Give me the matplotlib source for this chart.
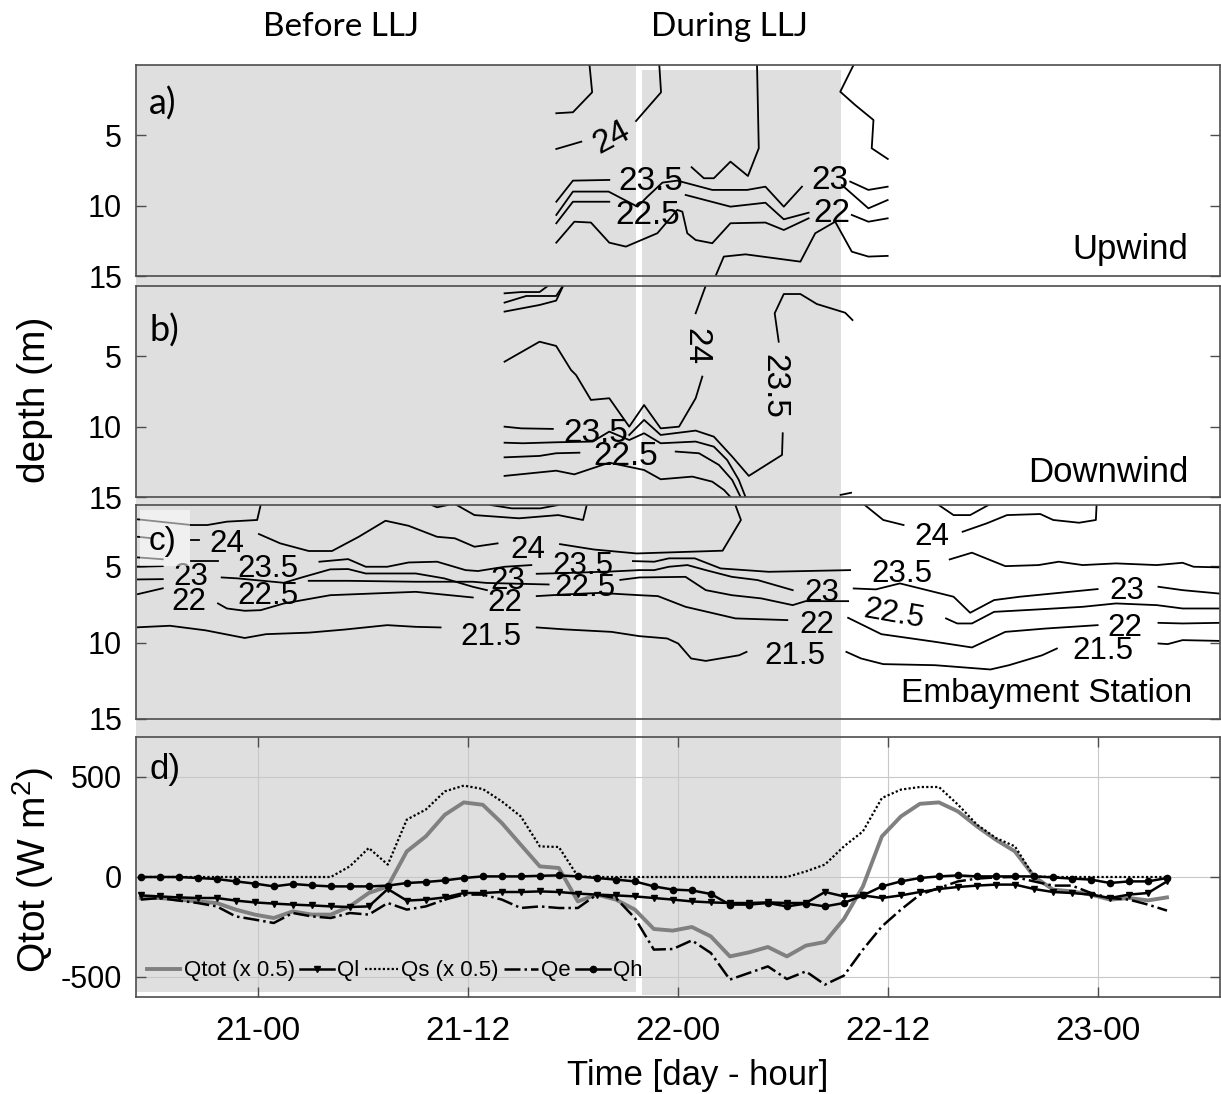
import numpy as np
import matplotlib
matplotlib.use("Agg")
import matplotlib.pyplot as plt
from matplotlib.patches import Rectangle
import matplotlib.transforms as mtransforms

plt.rcParams['font.family'] = ['Liberation Sans', 'DejaVu Sans']
plt.rcParams['mathtext.fontset'] = 'custom'
plt.rcParams['mathtext.rm'] = 'Liberation Sans'
plt.rcParams['mathtext.default'] = 'regular'
plt.rcParams['axes.unicode_minus'] = False

# ---------------- time axis (hours since day 21, 00:00) ----------------
time_range = (-7, 55)
tick_hours = [0, 12, 24, 36, 48]
tick_labels = ['21-00', '21-12', '22-00', '22-12', '23-00']
before_llj = (-7.0, 21.62)
during_llj = (21.96, 33.31)

# ---------------- panel d: heat fluxes (W m-2) ----------------
flux_t0 = -6.73
flux_dt = 1.087
qtot = [-105, -105, -113, -122, -130, -163, -188, -205, -172, -188, -188, -147, -80, -47, 128,
        203, 311, 373, 361, 270, 161, 53, 45, -122, -88, -113, -163, -260, -268,
        -250, -297, -397, -377, -350, -397, -343, -325, -210, -47, 203, 303, 366, 373, 328,
        253, 186, 128, 3, -63, -72, -88, -113, -105, -117, -102]
ql = [-92, -97, -102, -105, -105, -118, -127, -133, -138, -142, -147, -150, -147, -60, -118,
      -113, -102, -80, -80, -75, -75, -72, -75, -83, -88, -92, -97, -105, -113,
      -122, -127, -130, -130, -127, -130, -130, -75, -97, -92, -105, -92, -75, -60, -50,
      -43, -38, -38, -60, -75, -80, -88, -105, -88, -80, -22]
qs = [0, 0, 0, 0, 0, 0, 0, 0, 0, 0, 0, 53, 145, 62, 287,
      337, 428, 457, 440, 378, 303, 153, 150, 3, 0, 0, 0, 0, 0,
      0, 0, 0, 0, 0, 0, 28, 62, 153, 228, 395, 437, 450, 450, 362,
      262, 195, 153, 3, 0, 0, 0, 0, 0, 0, 0]
qe = [-113, -105, -118, -130, -147, -197, -213, -230, -180, -197, -205, -180, -188, -130, -163,
      -147, -113, -88, -88, -113, -155, -147, -155, -155, -88, -105, -205, -363, -360,
      -317, -380, -513, -480, -447, -510, -472, -538, -493, -363, -247, -163, -88, -55, -22,
      -8, -2, 0, -22, -43, -43, -80, -105, -113, -138, -168]
qh = [0, 0, 0, -5, -10, -22, -33, -47, -35, -42, -47, -47, -47, -43, -30,
      -25, -17, -5, 3, 3, 3, 6, 8, 3, -5, -13, -22, -47, -63,
      -67, -85, -138, -138, -130, -147, -133, -147, -130, -92, -47, -22, -5, 3, 8,
      3, 3, 3, 3, -2, -8, -13, -30, -22, -22, -5]

# ---------------- isotherm traces (time h, depth m), one list per isotherm ----------------
# panel a (Upwind)
a_warm = [([18.94, 19.09, 17.99, 17.04], [0.0, 1.94, 3.36, 3.43])]
a_24 = [([17.04, 18.47], [5.97, 5.45]), ([21.6, 23.03, 22.93], [3.98, 1.94, 0.0])]
a_235 = [([17.04, 17.99, 20.07], [9.72, 8.22, 8.17]),
         ([24.78, 25.48, 26.05, 27.0, 28.0, 28.62, 28.52], [7.27, 8.05, 8.05, 6.87, 7.89, 5.92, 0.0])]
a_east = [([34.04, 33.28, 34.13, 35.18, 35.08, 36.0], [0.0, 1.9, 2.84, 3.91, 5.92, 6.68])]
a_23 = [([17.04, 17.99, 20.03, 21.68, 22.25, 23.11, 23.96, 25.96, 27.95, 29.0, 30.05, 31.09],
         [10.66, 9.0, 9.0, 10.07, 9.36, 8.36, 8.22, 8.88, 8.88, 8.65, 10.07, 8.65]),
        ([33.85, 34.89, 35.99], [8.29, 8.88, 8.65])]
a_225 = [([17.04, 17.99, 20.07], [11.25, 9.72, 9.72]),
         ([24.44, 27.0, 29.0, 30.05, 31.47], [9.24, 10.07, 9.79, 10.97, 10.5]),
         ([33.37, 34.89, 35.99], [8.53, 10.19, 9.6])]
a_22 = [([17.04, 18.07, 19.02, 20.07, 21.02, 22.82, 23.96, 24.25, 24.53, 25.01, 25.96, 27.0, 29.0, 30.05, 31.47],
         [12.63, 11.14, 11.2, 12.63, 12.91, 11.96, 10.3, 10.43, 11.96, 12.44, 12.67, 11.25, 11.2, 11.73, 10.9]),
        ([33.94, 34.89, 35.99], [10.66, 11.14, 10.9])]
a_215 = [([26.15, 26.62, 27.86, 31.0, 31.85, 32.99, 33.94, 34.89, 35.99],
          [15.0, 13.62, 13.46, 13.98, 11.96, 11.14, 13.27, 13.62, 13.57])]
a_labels = [('24', 20.1, 4.97, 28), ('23.5', 22.45, 8.05, 0), ('22.5', 22.25, 10.43, 0),
            ('23', 32.7, 7.94, 0), ('22', 32.8, 10.3, 0)]

# panel b (Downwind)
b_warm = [([14.08, 15.03, 16.08, 16.55], [0.52, 0.43, 0.43, 0.0]),
          ([14.08, 15.32, 17.03, 17.41], [1.18, 0.71, 0.71, 0.0]),
          ([14.08, 16.08, 17.03, 17.41], [1.82, 1.35, 1.04, 0.05])]
b_24 = [([14.08, 16.08, 17.03, 17.88, 18.17, 19.02, 20.07, 21.21, 22.06, 23.01, 24.06, 25.01, 25.39],
         [5.38, 3.96, 4.26, 5.97, 6.33, 8.1, 7.98, 10.0, 8.46, 10.12, 10.0, 7.98, 6.44]),
        ([25.01, 25.58], [1.94, 0.0])]
b_235 = [([14.08, 15.03, 16.84], [10.0, 10.12, 10.16]),
         ([21.21, 22.06, 23.01, 25.01, 26.05, 27.1, 28.05, 29.95, 29.99],
          [10.59, 9.52, 10.59, 10.28, 10.71, 12.13, 13.5, 12.01, 10.47]),
         ([29.76, 29.53, 30.05, 31.0, 31.94, 33.56, 33.98], [3.96, 1.94, 0.57, 0.57, 1.28, 1.9, 2.42])]
b_23 = [([14.08, 15.13, 17.03, 19.12, 20.07, 21.21, 22.06, 23.01, 25.01, 26.05, 26.81, 27.48, 27.86],
         [11.14, 11.18, 11.11, 11.06, 10.35, 10.95, 10.47, 11.18, 11.06, 11.42, 12.37, 13.79, 15.0])]
b_225 = [([14.08, 16.08, 17.03, 18.36], [12.18, 12.08, 11.89, 11.85]),
         ([23.87, 25.2, 26.34, 27.1, 27.58], [11.77, 11.89, 12.72, 13.79, 15.0])]
b_22 = [([14.08, 17.03, 18.07, 20.07, 22.06, 23.01, 24.82, 25.96, 26.63, 27.0],
         [13.5, 13.13, 13.39, 12.56, 13.08, 13.74, 13.55, 13.91, 14.5, 15.0])]
b_east = [([33.3, 33.9], [14.85, 14.7])]
b_labels = [('23.5', 19.31, 10.23, 0), ('22.5', 21.02, 11.89, 0), ('24', 25.2, 4.31, -90),
            ('23.5', 29.66, 7.15, -90)]

# panel c (Embayment Station)
c_warm = [([-6.89, -3.84, -2.92, -1.80, -0.07, 0.13], [1.94, 2.31, 2.31, 2.09, 1.98, 1.0]),
          ([9.91, 10.22, 10.83], [1.0, 1.15, 1.0]),
          ([11.34, 12.36, 14.9, 17.15, 18.57, 18.78], [1.0, 1.66, 1.87, 1.66, 1.98, 1.0]),
          ([13.28, 14.5, 16.13, 17.15], [1.0, 1.22, 1.22, 1.0]),
          ([38.91, 39.76, 40.71, 41.76], [1.0, 1.66, 1.66, 1.0])]
c_24 = [([-6.89, -6.08], [3.08, 3.18]), ([-3.84, -3.4], [3.29, 3.29]),
        ([0.03, 1.25, 2.88, 4.21, 5.74, 7.27, 8.59, 10.22, 11.24, 12.36, 13.68],
         [2.90, 3.51, 4.01, 4.01, 3.08, 2.03, 2.36, 3.08, 3.18, 3.73, 3.51]),
        ([17.25, 19.18, 21.63, 24.64, 26.55, 27.6, 27.28], [3.56, 3.91, 4.17, 4.06, 3.99, 1.98, 1.0]),
        ([34.68, 35.74, 36.9], [1.0, 1.98, 2.31]),
        ([40.28, 41.66, 42.82, 44.72, 45.46, 46.94, 47.9, 47.94], [2.75, 2.20, 1.66, 1.59, 1.98, 2.16, 1.98, 1.0])]
c_235 = [([-6.89, -5.47], [4.43, 4.55]), ([-3.84, -2.31], [4.65, 4.65]),
         ([3.49, 5.13, 6.14, 7.37, 8.59, 10.22, 11.85, 12.56, 14.09, 15.61],
          [4.71, 4.54, 5.04, 5.04, 4.76, 4.71, 5.26, 5.32, 5.04, 4.93]),
         ([21.42, 22.64, 23.48, 24.96, 26.44, 29.19, 33.84], [4.67, 4.71, 4.49, 4.49, 5.15, 5.37, 5.26]),
         ([39.54, 40.81, 42.72, 44.62, 45.78, 47.15, 49.05, 51.38, 52.86, 53.49, 54.93],
          [4.56, 4.12, 5.0, 4.93, 4.71, 4.93, 4.82, 4.93, 4.78, 5.04, 5.08])]
c_23 = [([-6.89, -5.47], [5.04, 5.0]),
        ([-2.10, -1.19, 1.46, 2.48, 4.11, 5.13, 6.14, 9.0, 10.63, 12.26, 13.07],
         [5.74, 5.80, 6.09, 5.74, 5.21, 5.19, 5.48, 5.48, 5.80, 6.35, 6.57]),
        ([15.92, 17.55, 20.2, 21.79, 22.64, 23.48, 24.54, 25.59, 27.08, 28.55, 30.56],
         [5.5, 5.45, 5.35, 5.26, 5.26, 5.04, 4.93, 5.26, 5.70, 5.91, 6.57]),
        ([34.05, 35.32, 36.69, 39.76, 40.71, 42.08, 43.56, 48.0], [6.46, 6.52, 6.13, 7.0, 8.05, 7.22, 7.0, 6.50]),
        ([51.48, 52.86, 54.93], [6.35, 6.57, 6.79])]
c_225 = [([-6.89, -5.47], [5.87, 5.85]),
         ([2.88, 5.13, 9.0, 12.26, 13.07, 16.6], [5.96, 5.96, 6.02, 6.02, 6.1, 6.2]),
         ([20.7, 21.79, 24.43, 25.59, 27.08, 28.76, 30.56, 31.3, 33.73],
          [5.9, 5.74, 5.70, 6.57, 6.90, 7.11, 7.55, 7.29, 7.29]),
         ([39.33, 39.97, 40.81, 42.08, 44.62, 47.15, 49.05, 51.38, 52.86, 54.93],
          [8.42, 8.75, 8.75, 7.99, 7.83, 7.66, 7.44, 7.55, 7.77, 7.77])]
c_22 = [([-6.89, -5.47], [6.83, 6.45]),
        ([-2.31, -1.80, -0.78, 0.13, 1.46, 4.11, 9.0, 12.26], [7.44, 7.77, 7.92, 7.88, 7.44, 6.9, 6.68, 7.05]),
        ([15.92, 17.55, 19.5, 21.79, 22.85, 24.43, 27.29, 30.25], [6.96, 6.85, 6.75, 6.90, 6.96, 7.66, 8.42, 8.53]),
        ([33.73, 35.63, 38.7, 40.81, 42.72, 45.04, 48.0], [8.38, 9.45, 9.95, 10.32, 9.30, 9.08, 8.86]),
        ([51.48, 52.86, 54.93], [8.71, 8.75, 8.71])]
c_215 = [([-6.89, -5.06, -3.02, -0.78, 0.44, 2.88, 4.92, 7.37, 9.0, 10.42],
          [9.0, 8.9, 9.2, 9.7, 9.45, 9.35, 9.15, 8.86, 8.97, 9.01]),
         ([15.92, 17.55, 20.2, 21.79, 23.38, 24.01, 24.75, 25.59, 27.5, 27.92],
          [9.01, 9.14, 9.3, 9.58, 9.73, 10.06, 11.04, 11.20, 10.83, 10.61]),
         ([33.63, 34.47, 35.74, 38.7, 41.87, 42.93, 44.83, 45.67],
          [10.61, 11.04, 11.41, 11.48, 11.76, 11.48, 10.83, 10.39]),
         ([51.48, 52.01, 52.86, 54.93], [10.06, 10.1, 9.84, 9.89])]
c_labels = [('24', -1.80, 3.29, 0), ('24', 15.41, 3.73, 0), ('24', 38.49, 2.86, 0),
            ('23.5', 0.54, 4.95, 0), ('23.5', 18.57, 4.75, 0), ('23.5', 36.8, 5.3, 0),
            ('23', -3.84, 5.45, 0), ('23', 14.29, 5.75, 0), ('23', 32.25, 6.5, 0), ('23', 49.69, 6.4, 0),
            ('22.5', 0.54, 6.7, 0), ('22.5', 18.67, 6.2, 0), ('22.5', 36.37, 7.95, -10),
            ('22', -4.0, 7.12, 0), ('22', 14.1, 7.2, 0), ('22', 31.93, 8.6, 0), ('22', 49.58, 8.8, 0),
            ('21.5', 13.27, 9.41, 0), ('21.5', 30.67, 10.65, 0), ('21.5', 48.3, 10.35, 0)]

# ---------------- figure ----------------
W, H = 1221, 1094
fig = plt.figure(figsize=(W / 100, H / 100), dpi=100)
L, R = 136, 1220
ax_a = fig.add_axes([L / W, 1 - 276 / H, (R - L) / W, 211 / H])
ax_b = fig.add_axes([L / W, 1 - 497 / H, (R - L) / W, 211 / H])
ax_c = fig.add_axes([L / W, 1 - 719 / H, (R - L) / W, 214 / H])
ax_d = fig.add_axes([L / W, 1 - 997 / H, (R - L) / W, 260 / H])

GRAY = '#dfdfdf'
trans = mtransforms.blended_transform_factory(ax_d.transData, fig.transFigure)
fig.add_artist(Rectangle((before_llj[0], 1 - 992 / H), before_llj[1] - before_llj[0], (992 - 65) / H,
                         transform=trans, facecolor=GRAY, edgecolor='none', zorder=-1))
fig.add_artist(Rectangle((during_llj[0], 1 - 995 / H), during_llj[1] - during_llj[0], (995 - 70) / H,
                         transform=trans, facecolor=GRAY, edgecolor='none', zorder=-1))

for ax in (ax_a, ax_b, ax_c, ax_d):
    ax.set_facecolor('none')
    ax.set_xlim(*time_range)
    for s in ax.spines.values():
        s.set_color('0.3')
        s.set_linewidth(1.2)


def draw_iso(ax, segs):
    for t, d in segs:
        ax.plot(t, d, color='k', lw=1.3, zorder=2)


def draw_labels(ax, labels, size):
    for txt, t, d, rot in labels:
        ax.text(t, d, txt, fontsize=size, ha='center', va='center_baseline', rotation=rot,
                rotation_mode='anchor', zorder=2)


for seg in (a_warm, a_24, a_235, a_east, a_23, a_225, a_22, a_215):
    draw_iso(ax_a, seg)
draw_labels(ax_a, a_labels, 24)
for seg in (b_warm, b_24, b_235, b_23, b_225, b_22, b_east):
    draw_iso(ax_b, seg)
draw_labels(ax_b, b_labels, 24)
for seg in (c_warm, c_24, c_235, c_23, c_225, c_22, c_215):
    draw_iso(ax_c, seg)
draw_labels(ax_c, c_labels, 22.5)

for ax, ylim in ((ax_a, (15, 0)), (ax_b, (15, 0)), (ax_c, (15, 1))):
    ax.set_ylim(*ylim)
    ax.set_yticks([5, 10, 15])
    ax.tick_params(axis='y', direction='in', length=7, width=1, left=True, right=True,
                   labelsize=22, pad=10, color='0.3')
    ax.tick_params(axis='x', bottom=False, labelbottom=False)

ax_a.text(0.9705, 0.08, 'Upwind', transform=ax_a.transAxes, ha='right', va='baseline', fontsize=25)
ax_b.text(0.9705, 0.072, 'Downwind', transform=ax_b.transAxes, ha='right', va='baseline', fontsize=25)
ax_c.text(0.974, 0.081, 'Embayment Station', transform=ax_c.transAxes, ha='right', va='baseline', fontsize=24)

ax_a.text(0.012, 0.9, 'a)', transform=ax_a.transAxes, ha='left', va='top', fontsize=26, family='Lato')
ax_b.text(0.012, 0.87, 'b)', transform=ax_b.transAxes, ha='left', va='top', fontsize=26, family='Lato')
ax_c.add_patch(Rectangle((0.004, 0.715), 0.046, 0.262, transform=ax_c.transAxes,
                         facecolor='white', alpha=0.55, edgecolor='none', zorder=3))
ax_c.text(0.012, 0.9, 'c)', transform=ax_c.transAxes, ha='left', va='top', fontsize=24, zorder=4)
ax_d.text(0.012, 0.94, 'd)', transform=ax_d.transAxes, ha='left', va='top', fontsize=25, zorder=4)

# ---------------- panel d ----------------
t = flux_t0 + flux_dt * np.arange(len(qtot))
ax_d.plot(t, qtot, color='0.5', lw=2.8, label='Qtot (x 0.5)', zorder=2)
ax_d.plot(t, ql, color='k', lw=1.8, marker='v', ms=4.5, label='Ql', zorder=3)
ax_d.plot(t, qs, color='k', lw=1.6, ls=(0, (1, 1)), label='Qs (x 0.5)', zorder=3)
ax_d.plot(t, qe, color='k', lw=1.8, ls='-.', label='Qe', zorder=3)
ax_d.plot(t, qh, color='k', lw=1.8, marker='o', ms=4.5, label='Qh', zorder=3)
ax_d.set_ylim(-600, 700)
ax_d.set_yticks([-500, 0, 500])
ax_d.set_xticks(tick_hours)
ax_d.set_xticklabels(tick_labels)
ax_d.grid(True, color='#c8c8c8', lw=0.8)
ax_d.set_axisbelow(True)
ax_d.tick_params(axis='both', direction='in', length=7, width=1, top=True, right=True, color='0.3')
ax_d.tick_params(axis='y', labelsize=22, pad=10)
ax_d.tick_params(axis='x', labelsize=24, pad=14)
ax_d.legend(loc='lower left', bbox_to_anchor=(0.01, 0.06), ncol=5, frameon=False, fontsize=16,
            handlelength=1.5, handletextpad=0.15, columnspacing=0.25, borderaxespad=0, borderpad=0)

# ---------------- figure texts ----------------
fig.text(341 / W, 1 - 27 / H, 'Before LLJ', ha='center', va='center', fontsize=24, family='Lato')
fig.text(729 / W, 1 - 27 / H, 'During LLJ', ha='center', va='center', fontsize=24, family='Lato')
fig.text(698 / W, 1 - 1075 / H, 'Time [day - hour]', ha='center', va='center', fontsize=25)
fig.text(35 / W, 1 - 400 / H, 'depth (m)', ha='center', va='center', rotation=90, fontsize=28)
fig.text(33 / W, 1 - 870 / H, 'Qtot (W m$^{2}$)', ha='center', va='center', rotation=90, fontsize=28)

fig.savefig('out.png', dpi=100)
